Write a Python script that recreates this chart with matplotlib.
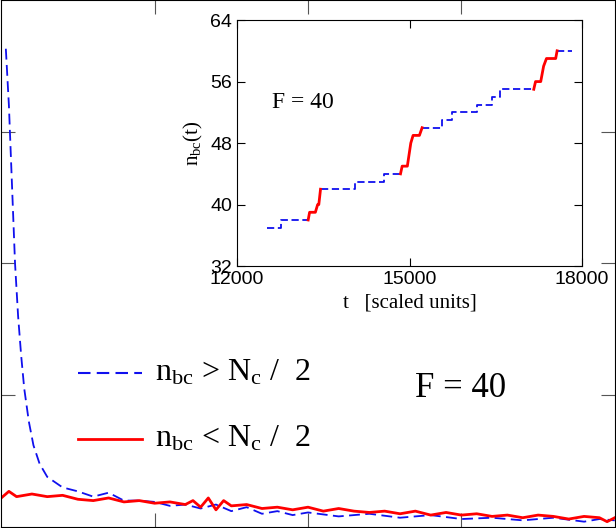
import matplotlib.pyplot as plt
import numpy as np

plt.rcParams['font.family'] = ['Liberation Serif', 'DejaVu Serif']
plt.rcParams['mathtext.fontset'] = 'custom'
plt.rcParams['mathtext.rm'] = 'Liberation Serif'
plt.rcParams['mathtext.it'] = 'Liberation Serif:italic'

# main panel (axis units: x 0..4, y 0..4)
blue_x = [0.03, 0.05, 0.07, 0.09, 0.11, 0.13, 0.15, 0.18, 0.21, 0.25, 0.3, 0.35, 0.4, 0.5, 0.6, 0.7, 0.8,
          0.9, 1.0, 1.1, 1.2, 1.3, 1.4, 1.5, 1.6, 1.7, 1.8, 1.9, 2.0, 2.2, 2.4, 2.6, 2.8, 3.0, 3.2,
          3.4, 3.6, 3.8, 3.9, 4.0]
blue_y = [3.63, 3.2, 2.6, 2.0, 1.6, 1.3, 1.05, 0.8, 0.62, 0.48, 0.38, 0.34, 0.3, 0.27, 0.23, 0.26, 0.2,
          0.2, 0.19, 0.16, 0.17, 0.14, 0.17, 0.12, 0.15, 0.1, 0.12, 0.09, 0.11, 0.08, 0.1, 0.07,
          0.09, 0.06, 0.07, 0.05, 0.07, 0.04, 0.06, 0.05]
red_x = [0.0, 0.05, 0.1, 0.2, 0.3, 0.4, 0.5, 0.6, 0.7, 0.8, 0.9, 1.0, 1.1, 1.2, 1.25, 1.3, 1.35,
         1.4, 1.45, 1.5, 1.6, 1.7, 1.8, 1.9, 2.0, 2.1, 2.2, 2.3, 2.4, 2.5, 2.6, 2.7, 2.8, 2.9,
         3.0, 3.1, 3.2, 3.3, 3.4, 3.5, 3.6, 3.7, 3.8, 3.9, 3.95, 4.0]
red_y = [0.22, 0.27, 0.23, 0.25, 0.23, 0.24, 0.21, 0.2, 0.22, 0.19, 0.2, 0.18, 0.19, 0.17, 0.2,
         0.15, 0.22, 0.13, 0.2, 0.16, 0.17, 0.14, 0.15, 0.13, 0.15, 0.12, 0.14, 0.12, 0.11, 0.12,
         0.1, 0.12, 0.09, 0.11, 0.09, 0.1, 0.08, 0.09, 0.07, 0.09, 0.08, 0.06, 0.08, 0.07, 0.04, 0.07]

# inset staircase n_bc(t)
ins_blue = [
    ([12520, 12754, 12754, 13235], [37, 37, 38, 38]),
    ([13450, 14058, 14058, 14551, 14551, 14841], [42, 42, 43, 43, 44, 44]),
    ([15217, 15565, 15565, 15739, 15739, 16174, 16174, 16435, 16435, 16568, 16568, 17159],
     [50, 50, 51, 51, 52, 52, 53, 53, 54, 54, 55, 55]),
    ([17565, 17826], [60, 60]),
]
ins_red = [
    ([13235, 13260, 13360, 13400, 13420, 13450], [38, 39, 39, 40, 40, 42]),
    ([14841, 14870, 14960, 15020, 15060, 15170, 15217], [44, 45, 45, 48, 49, 49, 50]),
    ([17159, 17190, 17280, 17330, 17380, 17540, 17565], [55, 56, 56, 58, 59, 59, 60]),
]

fig = plt.figure(figsize=(6.16, 5.28), dpi=100)
ax = fig.add_axes([0.002, 0.002, 0.996, 0.998])
ax.plot(blue_x, blue_y, '--', color='#1010ee', lw=1.3, dashes=(6, 3))
ax.plot(red_x, red_y, '-', color='red', lw=2)
ax.set_xlim(0, 4)
ax.set_ylim(0, 4)
ax.set_xticks([1, 2, 3])
ax.set_yticks([1, 2, 3])
ax.tick_params(direction='in', length=10, labelbottom=False, labelleft=False,
               top=True, right=True, color='#555555')

# legend drawn by hand
ax.plot([0.5, 0.92], [1.17, 1.17], '--', color='#1010ee', lw=1.5, dashes=(6, 3))
ax.plot([0.5, 0.92], [0.67, 0.67], '-', color='red', lw=2)
ax.text(1.0, 1.17, r'n$_{\rm bc}$ > N$_{\rm c}$ /  2', fontsize=23, va='center')
ax.text(1.0, 0.67, r'n$_{\rm bc}$ < N$_{\rm c}$ /  2', fontsize=23, va='center')
ax.text(2.7, 1.05, 'F = 40', fontsize=25, va='center')

ins = fig.add_axes([0.385, 0.496, 0.56, 0.466])
for xs, ys in ins_blue:
    ins.plot(xs, ys, '--', color='#1010ee', lw=1.3, dashes=(4, 2))
for xs, ys in ins_red:
    ins.plot(xs, ys, '-', color='red', lw=2)
ins.set_xlim(12000, 18000)
ins.set_ylim(32, 64)
ins.set_xticks([12000, 15000, 18000])
ins.set_yticks([32, 40, 48, 56, 64])
ins.tick_params(direction='in', length=6, labelsize=14, top=True, right=True)
for lab in ins.get_xticklabels() + ins.get_yticklabels():
    lab.set_family('Liberation Sans')
ins.set_xlabel('t   [scaled units]', fontsize=15)
ins.set_ylabel(r'n$_{\rm bc}$(t)', fontsize=15)
ins.text(12600, 52.5, 'F = 40', fontsize=17)

fig.savefig('out.png', dpi=100)
